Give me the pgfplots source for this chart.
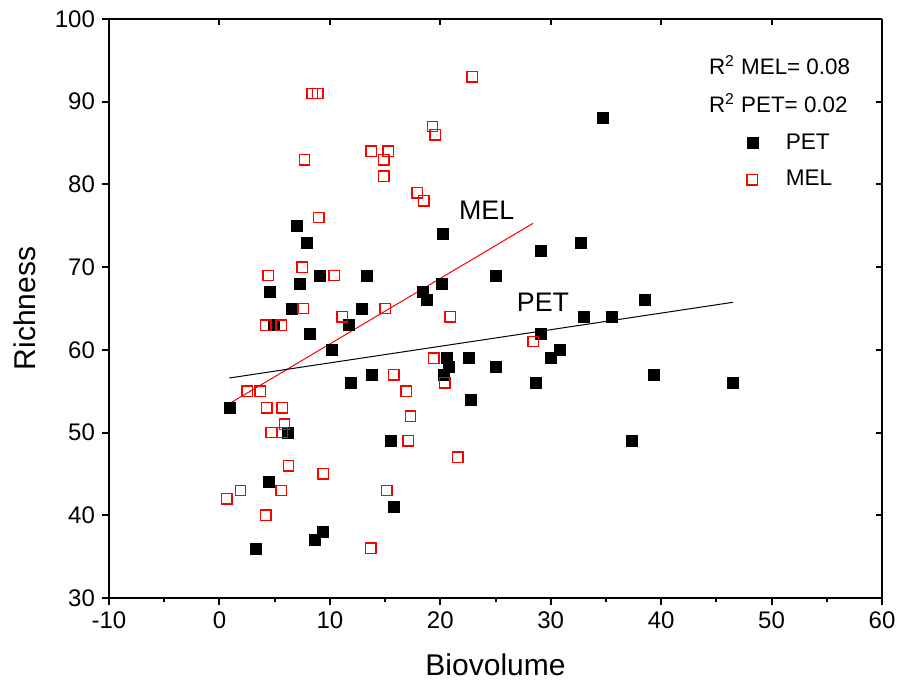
\documentclass[border=0pt]{standalone}
\usepackage{pgfplots}
\pgfplotsset{compat=1.18}
\usepackage{fontspec}
\setmainfont{Liberation Sans}
\begin{document}
\begin{tikzpicture}
\begin{axis}[
  name=ax, at={(0,0)}, anchor=south west,
  scale only axis, width=386.5pt, height=289.5pt,
  xmin=-10, xmax=60, ymin=30, ymax=100,
  axis x line*=bottom, axis y line*=left,
  axis line style={-, line width=1pt},
  xtick={-10,0,...,60}, ytick={30,40,...,100},
  minor x tick num=1,
  tick align=outside,
  major tick length=3.5pt, minor tick length=2.2pt,
  every tick/.style={black, line width=1pt},
  /pgf/number format/assume math mode=true,
  ticklabel style={font=\fontsize{12}{14}\selectfont},
  xlabel={Biovolume}, ylabel={Richness},
  xlabel style={font=\fontsize{15}{18}\selectfont, at={(axis description cs:0.5,-0.1157)}, anchor=center},
  ylabel style={font=\fontsize{15}{18}\selectfont, at={(axis description cs:-0.1087,0.5)}, anchor=center},
  legend style={draw=none, fill=none, at={(axis description cs:0.883,0.754)}, anchor=center,
    font=\fontsize{11.3}{13}\selectfont, row sep=5pt},
  legend cell align=left,
  clip=false,
]
\addplot[color=black, only marks, mark=square*, mark size=2.75pt, mark options={solid, fill=black, draw=black, line width=0.3pt}] table {
x y
0.9 53
3.3 36
4.5 44
4.6 67
4.9 63
6.2 50
6.55 65
6.97 75
7.24 68
7.9 73
8.2 62
8.66 37
9.05 69
9.36 38
10.2 60
11.7 63
11.9 56
12.9 65
13.3 69
13.8 57
15.5 49
15.75 41
18.4 67
18.8 66
20.1 68
20.25 74
20.3 57
20.6 59
20.8 58
22.6 59
22.8 54
25.05 69
25.05 58
28.65 56
29.1 72
29.1 62
30.0 59
30.8 60
32.7 73
33.0 64
34.7 88
35.5 64
37.3 49
38.5 66
39.3 57
46.5 56
};
\addlegendentry{\hspace{12pt}PET}
\addplot[color=red, only marks, mark=square, mark size=2.6pt, mark options={solid, draw=red, line width=0.7pt}] table {
x y
0.66 42
1.9 43
2.5 55
3.7 55
4.2 63
4.2 40
4.3 53
4.4 69
4.7 50
5.6 63
5.6 43
5.7 53
5.7 50
5.9 51
6.25 46
7.5 70
7.6 65
7.7 83
8.4 91
8.9 91
9.0 76
9.4 45
10.4 69
11.1 64
13.7 36
13.76 84
14.9 83
14.9 81
15.0 65
15.15 43
15.3 84
15.8 57
16.9 55
17.1 49
17.3 52
17.9 79
18.5 78
19.3 87
19.4 59
19.55 86
20.4 56
20.9 64
21.6 47
22.9 93
28.4 61
};
\addlegendentry{\hspace{12pt}MEL}
\addplot[red, line width=0.5pt, forget plot] coordinates {(0.9,53.5) (28.4,75.3)};
\addplot[black, line width=0.5pt, forget plot] coordinates {(0.9,56.6) (46.5,65.75)};
\node[font=\fontsize{13.4}{16}\selectfont] at (axis cs:24.2,76.9) {MEL};
\node[font=\fontsize{13.4}{16}\selectfont] at (axis cs:29.3,65.8) {PET};
\node[font=\fontsize{11.2}{13}\selectfont, anchor=west, inner sep=0pt] at (axis cs:44.3,94.4) {R\textsuperscript{2} MEL= 0.08};
\node[font=\fontsize{11.2}{13}\selectfont, anchor=west, inner sep=0pt] at (axis cs:44.3,89.8) {R\textsuperscript{2} PET= 0.02};
\end{axis}
\begin{axis}[
  at={(0,0)}, anchor=south west,
  scale only axis, width=386.5pt, height=289.5pt,
  xmin=-10, xmax=60, ymin=30, ymax=100,
  axis x line*=top, axis y line*=right,
  axis line style={-, line width=1pt},
  xtick={-10,0,...,60}, ytick={30,40,...,100},
  xticklabels={}, yticklabels={},
  tick align=inside, major tick length=3pt,
  every tick/.style={black, line width=1pt},
]
\end{axis}
\pgfresetboundingbox
\path[use as bounding box] (-54.5pt,-43pt) rectangle (394pt,299pt);
\end{tikzpicture}
\end{document}
